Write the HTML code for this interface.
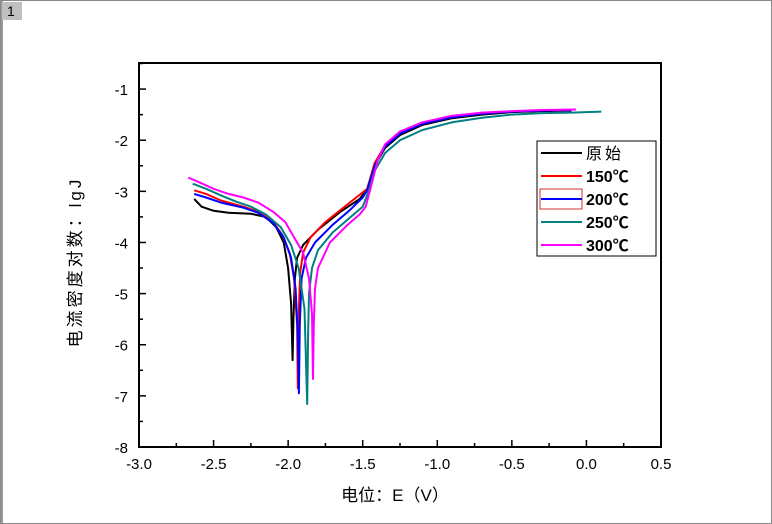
<!DOCTYPE html>
<html><head><meta charset="utf-8"><style>
body{margin:0;background:#fff;font-family:"Liberation Sans","Noto Sans CJK SC",sans-serif}
#wrap{position:relative;width:772px;height:524px;overflow:hidden}
</style></head><body>
<div id="wrap">
<svg id="svg" width="772" height="524" xmlns="http://www.w3.org/2000/svg">
<rect x="0.5" y="0.5" width="771" height="523" fill="#fff" stroke="#8a8a8a"/>
<rect x="1" y="1" width="2" height="522" fill="#9a9a9a"/>
<rect x="2" y="2" width="20" height="18" fill="#c0c0c0"/>
<text x="7" y="16" font-size="14" font-family="Liberation Sans,sans-serif">1</text>
<g id="axes"></g>
<g id="series"></g>
<g id="legend"></g>
</svg>
</div>
<script>
const xTicks=[-3.0,-2.5,-2.0,-1.5,-1.0,-0.5,0.0,0.5];
const xTickLabels=["-3.0","-2.5","-2.0","-1.5","-1.0","-0.5","0.0","0.5"];
const yTicks=[-1,-2,-3,-4,-5,-6,-7,-8];
const yTickLabels=["-1","-2","-3","-4","-5","-6","-7","-8"];
const seriesNames=["原始","150℃","200℃","250℃","300℃"];
const seriesColors=["#000000","#ff0000","#0000ff","#008080","#ff00ff"];
const eBlack=[-2.63,-2.58,-2.5,-2.4,-2.25,-2.15,-2.08,-2.03,-2.0,-1.98,-1.97,-1.965,-1.955,-1.94,-1.9,-1.8,-1.65,-1.52,-1.47,-1.42,-1.35,-1.25,-1.1,-0.9,-0.7,-0.5,-0.3,-0.1];
const jBlack=[-3.15,-3.3,-3.38,-3.42,-3.44,-3.5,-3.7,-4.0,-4.5,-5.2,-6.3,-5.5,-4.7,-4.3,-4.05,-3.75,-3.4,-3.15,-2.95,-2.5,-2.15,-1.9,-1.7,-1.57,-1.5,-1.45,-1.43,-1.42];
const eRed=[-2.63,-2.55,-2.45,-2.3,-2.2,-2.1,-2.04,-1.99,-1.96,-1.94,-1.935,-1.93,-1.92,-1.9,-1.85,-1.75,-1.6,-1.5,-1.47,-1.42,-1.35,-1.25,-1.1,-0.9,-0.7,-0.5,-0.3,-0.1];
const jRed=[-2.98,-3.05,-3.18,-3.3,-3.4,-3.6,-3.85,-4.2,-4.7,-5.6,-6.85,-5.5,-4.6,-4.2,-3.9,-3.6,-3.25,-3.02,-2.95,-2.45,-2.1,-1.85,-1.67,-1.55,-1.48,-1.44,-1.42,-1.41];
const eBlue=[-2.63,-2.55,-2.45,-2.3,-2.2,-2.1,-2.03,-1.98,-1.95,-1.935,-1.928,-1.922,-1.91,-1.88,-1.82,-1.7,-1.58,-1.5,-1.47,-1.42,-1.35,-1.25,-1.1,-0.9,-0.7,-0.5,-0.3,-0.1];
const jBlue=[-3.05,-3.12,-3.22,-3.32,-3.42,-3.62,-3.9,-4.3,-4.9,-5.8,-6.95,-5.6,-4.7,-4.3,-4.0,-3.65,-3.35,-3.12,-2.98,-2.5,-2.12,-1.87,-1.68,-1.55,-1.48,-1.44,-1.42,-1.41];
const eTeal=[-2.64,-2.55,-2.45,-2.35,-2.25,-2.15,-2.05,-1.98,-1.93,-1.89,-1.872,-1.866,-1.86,-1.84,-1.8,-1.7,-1.58,-1.5,-1.46,-1.42,-1.35,-1.25,-1.1,-0.9,-0.7,-0.5,-0.3,-0.1,0.1];
const jTeal=[-2.85,-2.95,-3.08,-3.2,-3.3,-3.45,-3.7,-4.05,-4.5,-5.3,-7.16,-5.8,-5.0,-4.5,-4.15,-3.8,-3.5,-3.3,-3.0,-2.6,-2.25,-2.0,-1.8,-1.65,-1.56,-1.5,-1.47,-1.46,-1.44];
const eMag=[-2.67,-2.6,-2.5,-2.4,-2.3,-2.2,-2.1,-2.02,-1.96,-1.9,-1.86,-1.84,-1.833,-1.828,-1.82,-1.8,-1.72,-1.6,-1.52,-1.48,-1.44,-1.4,-1.35,-1.25,-1.1,-0.9,-0.7,-0.5,-0.3,-0.07];
const jMag=[-2.73,-2.82,-2.95,-3.05,-3.12,-3.22,-3.4,-3.6,-3.9,-4.2,-4.7,-5.4,-6.67,-5.6,-4.9,-4.5,-4.0,-3.65,-3.45,-3.3,-2.85,-2.4,-2.08,-1.83,-1.65,-1.52,-1.46,-1.43,-1.41,-1.40];
const seriesE=[eBlack,eRed,eBlue,eTeal,eMag];
const seriesJ=[jBlack,jRed,jBlue,jTeal,jMag];

const NS="http://www.w3.org/2000/svg";
const L=139,R=661,T=63,B=447,xmin=-3,xmax=0.5,ymin=-8,ymax=-0.49;
const sx=v=>L+(v-xmin)/(xmax-xmin)*(R-L);
const sy=v=>B-(v-ymin)/(ymax-ymin)*(B-T);
function mk(tag,attrs,parent){const e=document.createElementNS(NS,tag);for(const k in attrs)e.setAttribute(k,attrs[k]);parent.appendChild(e);return e;}
const ax=document.getElementById('axes');
let f=mk('rect',{x:L,y:T,width:R-L,height:B-T,fill:'none',stroke:'#000','stroke-width':2},ax);


xTicks.forEach((v,i)=>{
  const x=sx(v);
  let t=mk('line',{x1:x,x2:x,y1:B,y2:B-7,stroke:'#000','stroke-width':1.5},ax);
  
  
  if(i<xTicks.length-1){let m=mk('line',{x1:sx(v+0.25),x2:sx(v+0.25),y1:B,y2:B-4,stroke:'#000','stroke-width':1.5},ax);
  
  }
  let l=mk('text',{x:x,y:B+22,'text-anchor':'middle','font-size':15},ax);l.textContent=xTickLabels[i];
  
  
});
yTicks.forEach((v,i)=>{
  const y=sy(v);
  let t=mk('line',{x1:L,x2:L+7,y1:y,y2:y,stroke:'#000','stroke-width':1.5},ax);
  
  
  let m=mk('line',{x1:L,x2:L+4,y1:sy(v+0.5),y2:sy(v+0.5),stroke:'#000','stroke-width':1.5},ax);
  
  
  let l=mk('text',{x:L-11,y:y+6,'text-anchor':'end','font-size':15},ax);l.textContent=yTickLabels[i];
  
  
});
let xt=mk('text',{x:395,y:501,'text-anchor':'middle','font-size':17},ax);xt.textContent='电位：E（V）';


let yt=mk('text',{x:0,y:0,'text-anchor':'middle','font-size':17,'letter-spacing':3,transform:'translate(81,262) rotate(-90)'},ax);yt.textContent='电流密度对数：lgJ';


const sg=document.getElementById('series');
seriesE.forEach((E,s)=>{
  const d=E.map((e,i)=>(i?'L':'M')+sx(e).toFixed(1)+','+sy(seriesJ[s][i]).toFixed(1)).join(' ');
  let p=mk('path',{d:d,fill:'none',stroke:seriesColors[s],'stroke-width':2,'stroke-linejoin':'round'},sg);
  
  
});
const lg=document.getElementById('legend');
let lb=mk('rect',{x:537,y:141,width:119,height:115,fill:'#fff',stroke:'#000','stroke-width':1},lg);


seriesNames.forEach((n,i)=>{
  const y=153+i*23;
  if(i===2){let h=mk('rect',{x:540,y:y-10,width:42,height:20,fill:'none',stroke:'#d03030'},lg);
  
  }
  let l=mk('line',{x1:541,x2:582,y1:y,y2:y,stroke:seriesColors[i],'stroke-width':2},lg);
  
  
  let t=mk('text',{x:586,y:y+6,'font-size':16,'font-weight':i?'bold':'normal','letter-spacing':i?0:3},lg);t.textContent=n;
  
  
});
</script>
</body></html>
